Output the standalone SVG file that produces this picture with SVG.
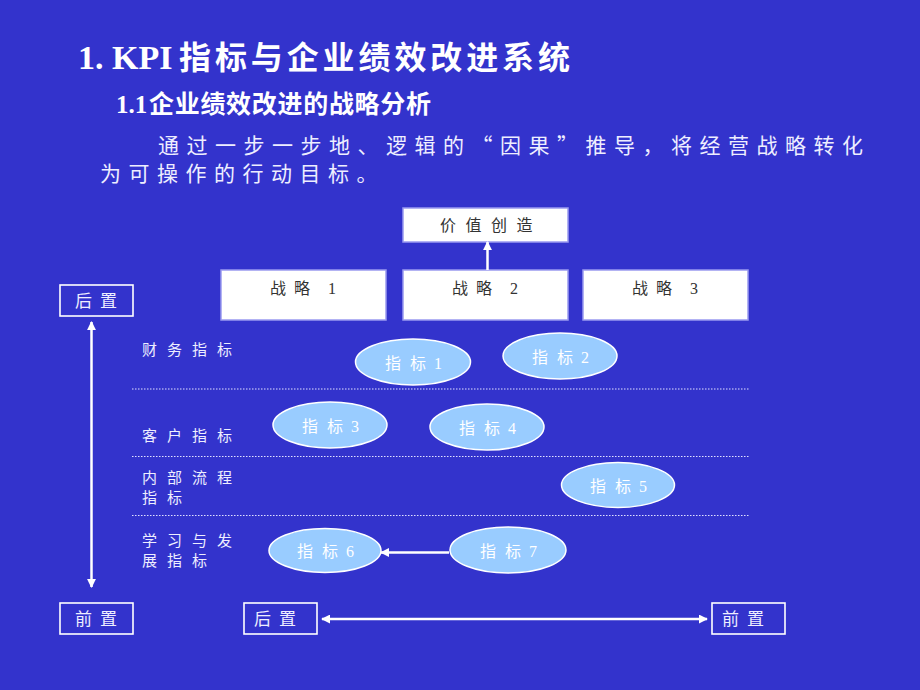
<svg xmlns="http://www.w3.org/2000/svg" width="920" height="690" viewBox="0 0 920 690">
<defs>
<style>
.bg{fill:#3333cc}
.title{font-family:"Liberation Serif","Noto Sans CJK SC",serif;font-weight:bold;fill:#ffffff}
.para{font-family:"Noto Sans CJK SC",sans-serif;font-size:21px;fill:#eeeeff;letter-spacing:7.5px}
.wbox{fill:#ffffff;stroke:#9a9af0;stroke-width:1.5}
.btxt{font-family:"Liberation Serif","Noto Sans CJK SC",serif;font-size:16px;fill:#333333}
.obox{fill:none;stroke:#ffffff;stroke-width:1.6}
.otxt{font-family:"Noto Sans CJK SC",sans-serif;font-size:17px;fill:#eeeeff;letter-spacing:8px}
.lbl{font-family:"Noto Sans CJK SC",sans-serif;font-size:15px;fill:#eeeeff;letter-spacing:10px}
.ell{fill:#99ccff;stroke:#ffffff;stroke-width:1.5}
.etxt{font-family:"Liberation Serif","Noto Sans CJK SC",serif;font-size:16px;fill:#ffffff}
.dot{stroke:#e0e0ff;stroke-width:1.2;stroke-dasharray:1.5 1.5;fill:none}
.con{stroke:#ffffff;stroke-width:2.5;fill:none}
</style>
<marker id="ah" markerUnits="userSpaceOnUse" viewBox="0 0 10 10" refX="9" refY="5" markerWidth="9" markerHeight="9" orient="auto-start-reverse">
<path d="M0,0 L10,5 L0,10 z" fill="#ffffff"/>
</marker>
</defs>
<rect class="bg" x="0" y="0" width="920" height="690"/>

<g id="header">
<text class="title" x="78" y="69" font-size="34">1. KPI<tspan x="179" font-size="32" letter-spacing="3.9">指标与企业绩效改进系统</tspan></text>
<text class="title" x="116" y="113" font-size="25">1.1<tspan x="149" font-size="25" letter-spacing="0.7">企业绩效改进的战略分析</tspan></text>
<text class="para" x="158" y="153">通过一步一步地、逻辑的“因果”推导，将经营战略转化</text>
<text class="para" x="100" y="181">为可操作的行动目标。</text>
</g>

<g id="grid">
<line class="dot" x1="132" y1="389" x2="750" y2="389"/>
<line class="dot" x1="132" y1="456.5" x2="750" y2="456.5"/>
<line class="dot" x1="132" y1="515.5" x2="750" y2="515.5"/>
</g>

<g id="value">
<rect class="wbox" x="403" y="208" width="165" height="34"/>
<text class="btxt" x="440" y="231" letter-spacing="9.5">价值创造</text>
</g>
<g id="strategy1">
<rect class="wbox" x="221" y="270" width="165" height="50"/>
<text class="btxt" x="270" y="294" letter-spacing="8">战略<tspan x="328">1</tspan></text>
</g>
<g id="strategy2">
<rect class="wbox" x="403" y="270" width="165" height="50"/>
<text class="btxt" x="452" y="294" letter-spacing="8">战略<tspan x="510">2</tspan></text>
</g>
<g id="strategy3">
<rect class="wbox" x="583" y="270" width="165" height="50"/>
<text class="btxt" x="632" y="294" letter-spacing="8">战略<tspan x="690">3</tspan></text>
</g>

<g id="post-top">
<rect class="obox" x="60" y="285" width="73" height="31"/>
<text class="otxt" x="75" y="307">后置</text>
</g>
<g id="pre-bottom">
<rect class="obox" x="60" y="603" width="73" height="31"/>
<text class="otxt" x="75" y="625">前置</text>
</g>
<g id="post-bottom">
<rect class="obox" x="244" y="603" width="73" height="31"/>
<text class="otxt" x="254" y="625">后置</text>
</g>
<g id="pre-right">
<rect class="obox" x="712" y="603" width="73" height="31"/>
<text class="otxt" x="722" y="625">前置</text>
</g>

<g id="labels">
<text class="lbl" x="142" y="355">财务指标</text>
<text class="lbl" x="142" y="441">客户指标</text>
<text class="lbl" x="142" y="483">内部流程</text>
<text class="lbl" x="142" y="503">指标</text>
<text class="lbl" x="142" y="546">学习与发</text>
<text class="lbl" x="142" y="566">展指标</text>
</g>

<g id="kpi1">
<ellipse class="ell" cx="413" cy="362" rx="57.5" ry="23"/>
<text class="etxt" x="385" y="369" letter-spacing="9">指标<tspan x="434">1</tspan></text>
</g>
<g id="kpi2">
<ellipse class="ell" cx="560" cy="356" rx="57" ry="23"/>
<text class="etxt" x="532" y="363" letter-spacing="9">指标<tspan x="581">2</tspan></text>
</g>
<g id="kpi3">
<ellipse class="ell" cx="330" cy="425" rx="57" ry="23"/>
<text class="etxt" x="302" y="432" letter-spacing="9">指标<tspan x="351">3</tspan></text>
</g>
<g id="kpi4">
<ellipse class="ell" cx="487" cy="427" rx="57" ry="23"/>
<text class="etxt" x="459" y="434" letter-spacing="9">指标<tspan x="508">4</tspan></text>
</g>
<g id="kpi5">
<ellipse class="ell" cx="618" cy="485" rx="56.5" ry="22.5"/>
<text class="etxt" x="590" y="492" letter-spacing="9">指标<tspan x="639">5</tspan></text>
</g>
<g id="kpi6">
<ellipse class="ell" cx="325" cy="550.5" rx="56" ry="22"/>
<text class="etxt" x="297" y="557" letter-spacing="9">指标<tspan x="346">6</tspan></text>
</g>
<g id="kpi7">
<ellipse class="ell" cx="508" cy="550" rx="58" ry="23"/>
<text class="etxt" x="480" y="557" letter-spacing="9">指标<tspan x="529">7</tspan></text>
</g>

<g id="connectors">
<line class="con" x1="487.5" y1="270" x2="487.5" y2="242" marker-end="url(#ah)"/>
<line class="con" x1="449" y1="552.5" x2="381" y2="552.5" marker-end="url(#ah)"/>
<line class="con" x1="91.5" y1="322" x2="91.5" y2="587" marker-start="url(#ah)" marker-end="url(#ah)"/>
<line class="con" x1="322" y1="619" x2="707" y2="619" marker-start="url(#ah)" marker-end="url(#ah)"/>
</g>
</svg>
